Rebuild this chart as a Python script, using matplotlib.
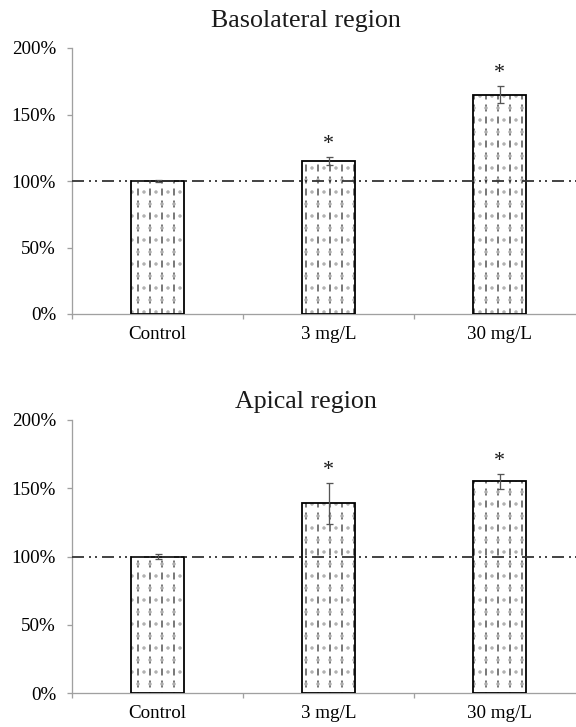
import matplotlib
matplotlib.use("Agg")
import matplotlib.pyplot as plt
import matplotlib.ticker as ticker
import numpy as np

plt.rcParams.update({
    "font.family": "serif", "font.serif": ["Liberation Serif", "DejaVu Serif"],
    "font.size": 19, "text.color": "#1a1a1a", "lines.scale_dashes": False,
})

categories = ["Control", "3 mg/L", "30 mg/L"]
baso_mean = [100, 115, 165]
baso_err = [1.0, 3.3, 6.5]
apical_mean = [100, 139, 155]
apical_err = [1.5, 15.0, 5.5]
signif = [False, True, True]

W, H = 576, 727
DPI = 72
AX_GREY = "#a0a0a0"


def hatched_bars(ax, x, vals, width):
    # grey vertical lines, cut into dashes by white stripes, plus faint dots
    layers = [("|", "#505050", 1.5, "white"), ("-", "white", 5.0, "none"),
              (".", "#b0b0b0", 1.0, "none")]
    for hatch, col, hlw, face in layers:
        plt.rcParams["hatch.linewidth"] = hlw
        bars = ax.bar(x, vals, width, color=face, edgecolor=col, linewidth=0,
                      hatch=hatch, zorder=2)
        for p in bars:
            if hasattr(p, "set_hatch_linewidth"):
                p.set_hatch_linewidth(hlw)
    ax.bar(x, vals, width, color="none", edgecolor="black", linewidth=1.8, zorder=3)


def panel(ax, means, errs, title_y, title):
    x = np.arange(len(categories))
    hatched_bars(ax, x, means, 0.31)
    ax.errorbar(x, means, yerr=errs, fmt="none", ecolor="#555555", elinewidth=1.3,
                capsize=3.5, capthick=1.3, zorder=4)
    for xi, m, e, s in zip(x, means, errs, signif):
        if s:
            ax.text(xi, m + e + 9, "*", ha="center", va="center", fontsize=22, zorder=5)
    ax.axhline(100, color="#333333", lw=1.8, dashes=[12, 5, 2, 4, 2, 5], zorder=6)
    ax.set_xlim(-0.5, len(categories) - 0.5)
    ax.set_ylim(0, 200)
    ax.yaxis.set_major_locator(ticker.MultipleLocator(50))
    ax.yaxis.set_major_formatter(ticker.PercentFormatter(decimals=0))
    ax.set_xticks(x)
    ax.set_xticklabels(categories)
    ax.set_xticks(np.arange(-0.5, len(categories)), minor=True)
    ax.tick_params(axis="x", which="major", length=0, pad=12, labelsize=19)
    ax.tick_params(axis="x", which="minor", length=5, width=1.3, color=AX_GREY, direction="out")
    ax.tick_params(axis="y", length=5, width=1.3, color=AX_GREY, pad=11, labelsize=19)
    for sp in ("top", "right"):
        ax.spines[sp].set_visible(False)
    for sp in ("left", "bottom"):
        ax.spines[sp].set_color(AX_GREY)
        ax.spines[sp].set_linewidth(1.3)
    fig.text(306 / W, 1 - title_y / H, title, ha="center", va="baseline", fontsize=26)


fig = plt.figure(figsize=(W / DPI, H / DPI), dpi=DPI)
ax1 = fig.add_axes([72 / W, (H - 314) / H, 513 / W, 266 / H])
ax2 = fig.add_axes([72 / W, (H - 693) / H, 513 / W, 273 / H])
panel(ax1, baso_mean, baso_err, 27, "Basolateral region")
panel(ax2, apical_mean, apical_err, 408, "Apical region")

fig.savefig("out.png", dpi=DPI)
